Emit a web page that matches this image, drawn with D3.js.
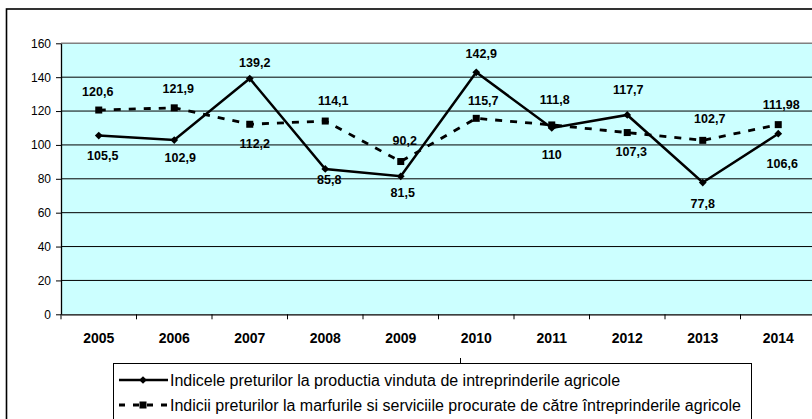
<!DOCTYPE html>
<html><head><meta charset="utf-8">
<script src="https://cdn.jsdelivr.net/npm/d3@7"></script>
<style>
body{margin:0;background:#fff;overflow:hidden;}
svg{display:block;font-family:"Liberation Sans",Arial,sans-serif;}
</style>
</head><body>
<svg id="c" width="812" height="419"></svg>
<script>
// ---- data ----
const years = ["2005","2006","2007","2008","2009","2010","2011","2012","2013","2014"];
const seriesA = [105.5,102.9,139.2,85.8,81.5,142.9,110,117.7,77.8,106.6];
const seriesB = [120.6,121.9,112.2,114.1,90.2,115.7,111.8,107.3,102.7,111.98];
const yTicks = [0,20,40,60,80,100,120,140,160];
const seriesNames = [
  "Indicele preturilor la productia vinduta de intreprinderile agricole",
  "Indicii preturilor la marfurile si serviciile procurate de către întreprinderile agricole"
];
// ---- label layout (dx, dy offsets from the point) ----
const labelOffA = [[4,20],[6,17],[5,-16],[4,11],[2,16],[5,-19],[0,27],[1,-25],[0,21],[4,30]];
const labelOffB = [[-1,-19],[4,-19.5],[5,19],[8,-21],[4,-21.5],[7,-18],[3,-25],[4,19],[7,-22],[3,-20]];

const svg = d3.select("#c");
const L = 61, R = 816, T = 43.3, B = 314.3;
const x = d3.scaleBand().domain(years).range([L, R]).paddingInner(0).paddingOuter(0);
const y = d3.scaleLinear().domain([0,160]).range([B, T]);
const cx = yr => x(yr) + x.bandwidth()/2;

// outer chart border
svg.append("rect").attr("x",6.5).attr("y",9).attr("width",900).attr("height",500)
  .attr("fill","#fff").attr("stroke","#000").attr("stroke-width",1.6);

// plot area
svg.append("rect").attr("x",L).attr("y",T).attr("width",R-L).attr("height",B-T)
  .attr("fill","#CCFFFF").attr("stroke","none");

// gridlines
svg.append("g").selectAll("line").data(yTicks.filter(t=>t>0 && t<160)).join("line")
  .attr("x1",L).attr("x2",R).attr("y1",d=>y(d)).attr("y2",d=>y(d))
  .attr("stroke","#000").attr("stroke-width",1);
// top border of plot
svg.append("line").attr("x1",L).attr("x2",R).attr("y1",y(160)).attr("y2",y(160))
  .attr("stroke","#808080").attr("stroke-width",1.5);

// y axis
const yAxis = svg.append("g").attr("transform",`translate(${L},0)`)
  .call(d3.axisLeft(y).tickValues(yTicks).tickSize(5).tickSizeOuter(0));
yAxis.select(".domain").attr("stroke","#000").attr("stroke-width",1.3);
yAxis.selectAll(".tick line").attr("stroke","#000");
yAxis.selectAll(".tick text").attr("x",-10).attr("font-size",12).attr("fill","#000")
  .attr("font-family","Liberation Sans, Arial, sans-serif");

// x axis
const xAxis = svg.append("g").attr("transform",`translate(0,${B})`)
  .call(d3.axisBottom(x).tickSize(0).tickSizeOuter(0));
xAxis.select(".domain").attr("stroke","#000").attr("stroke-width",1.3);
xAxis.selectAll(".tick text").attr("y",19).attr("dy","0.71em").attr("font-size",14)
  .attr("font-weight","bold").attr("fill","#000")
  .attr("font-family","Liberation Sans, Arial, sans-serif");
// boundary ticks
svg.append("g").selectAll("line").data(years).join("line")
  .attr("x1",d=>x(d)).attr("x2",d=>x(d)).attr("y1",B).attr("y2",B+5)
  .attr("stroke","#000").attr("stroke-width",1);

// lines
const lineGen = d3.line().x((d,i)=>cx(years[i])).y(d=>y(d));
svg.append("path").datum(seriesB).attr("d",lineGen).attr("fill","none")
  .attr("stroke","#000").attr("stroke-width",2.8).attr("stroke-dasharray","7,8");
svg.append("path").datum(seriesA).attr("d",lineGen).attr("fill","none")
  .attr("stroke","#000").attr("stroke-width",2.5);

// markers
svg.append("g").selectAll("rect").data(seriesB).join("rect")
  .attr("x",(d,i)=>cx(years[i])-3.5).attr("y",d=>y(d)-3.5).attr("width",7).attr("height",7)
  .attr("fill","#000");
svg.append("g").selectAll("path").data(seriesA).join("path")
  .attr("d",d3.symbol().type(d3.symbolSquare).size(30))
  .attr("transform",(d,i)=>`translate(${cx(years[i])},${y(d)}) rotate(45)`)
  .attr("fill","#000");

// data labels
const fmt = v => String(v).replace(".",",");
function labels(series, offs){
  svg.append("g").selectAll("text").data(series).join("text")
    .attr("x",(d,i)=>cx(years[i])+offs[i][0])
    .attr("y",(d,i)=>y(d)+offs[i][1])
    .attr("dy","0.36em").attr("text-anchor","middle")
    .attr("font-size",12.5).attr("font-weight","bold").attr("fill","#000")
    .text(d=>fmt(d));
}
labels(seriesB, labelOffB);
labels(seriesA, labelOffA);

// small axis-title remnant
svg.append("line").attr("x1",460.5).attr("x2",460.5).attr("y1",358).attr("y2",363)
  .attr("stroke","#000").attr("stroke-width",1);

// legend
const lg = svg.append("g");
lg.append("rect").attr("x",113.5).attr("y",363.5).attr("width",638).attr("height",80)
  .attr("fill","#fff").attr("stroke","#000").attr("stroke-width",1);
const rowsY = [380, 405];
// row 1
lg.append("line").attr("x1",119).attr("x2",168).attr("y1",rowsY[0]).attr("y2",rowsY[0])
  .attr("stroke","#000").attr("stroke-width",2.5);
lg.append("path").attr("d",d3.symbol().type(d3.symbolSquare).size(30))
  .attr("transform",`translate(143,${rowsY[0]}) rotate(45)`).attr("fill","#000");
// row 2
lg.append("line").attr("x1",119).attr("x2",168).attr("y1",rowsY[1]).attr("y2",rowsY[1])
  .attr("stroke","#000").attr("stroke-width",2.8).attr("stroke-dasharray","6,8");
lg.append("rect").attr("x",139.5).attr("y",rowsY[1]-3.5).attr("width",7).attr("height",7).attr("fill","#000");
lg.selectAll("text.lt").data(seriesNames).join("text").attr("class","lt")
  .attr("x",170).attr("y",(d,i)=>rowsY[i]).attr("dy","0.35em")
  .attr("font-size",16).attr("fill","#000").text(d=>d);
</script>
</body></html>
